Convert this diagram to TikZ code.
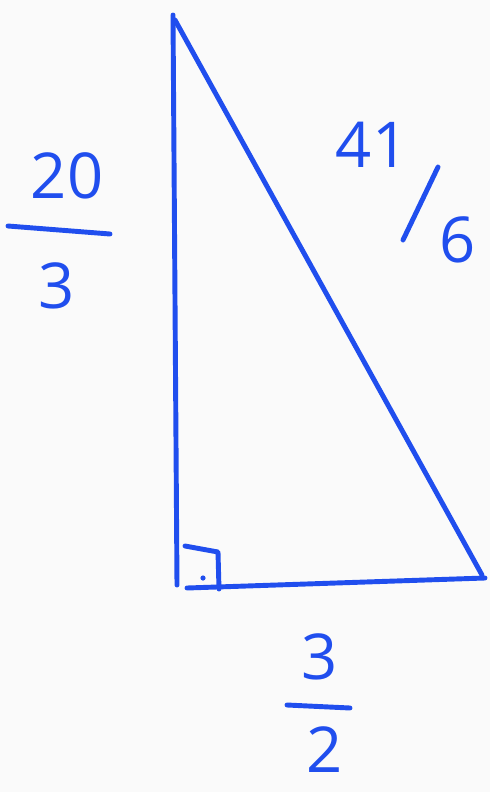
\documentclass[tikz,border=0pt]{standalone}
\usepackage{fontspec}
\setmainfont{Open Sans}
\definecolor{pen}{RGB}{32,78,238}
\definecolor{paper}{RGB}{250,250,250}
\begin{document}
	\begin{tikzpicture}[x=.02cm,y=-.02cm,line cap=round,line join=round]
		\fill[paper] (0,0) rectangle (490,792);
		\useasboundingbox (0,0) rectangle (490,792);
		\tikzset{num/.style={pen,inner sep=0pt,font=\fontsize{36}{38}\selectfont}}
		\begin{scope}[pen,line width=2.8pt]
			% triangle
			\coordinate (top) at (173,15);
			\coordinate (left) at (177,585);
			\coordinate (right) at (485,578);
			\draw (top)--(left);
			\draw (187,588)--(right);
			\draw (175,20)--(482,575);
			% right angle
			\draw (185,546)--(218,552)--(219,589);
			\fill (203,578) circle[radius=2.6];
			% fraction bars
			\draw (8,226)--(110,234);
			\draw (287,705)--(350,708);
			\draw (403,240)--(438,167);
		\end{scope}
		\node[num] (a1) at (67,176) {20};
		\node[num] (a2) at (57,286) {3};
		\node[num] (c1) at (372,145) {41};
		\node[num] (c2) at (458,240) {6};
		\node[num] (b1) at (320,657) {3};
		\node[num] (b2) at (325,750) {2};
	\end{tikzpicture}
\end{document}
